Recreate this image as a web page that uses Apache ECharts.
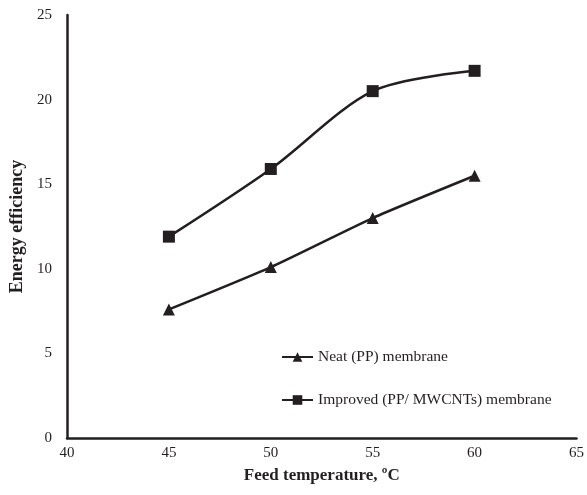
<!DOCTYPE html>
<html>
<head>
<meta charset="utf-8">
<script src="https://cdn.jsdelivr.net/npm/echarts@6/dist/echarts.min.js"></script>
<style>
  html, body { margin: 0; padding: 0; background: #fff; }
  #chart { width: 587px; height: 495px; }
</style>
</head>
<body>
<div id="chart"></div>
<script>
// Feed temperature (°C) and energy efficiency for the two membranes
const temperatures = [45, 50, 55, 60];
const neatPP = [7.6, 10.1, 13.0, 15.5];
const improvedPP = [11.9, 15.9, 20.5, 21.7];
const xTicks = [40, 45, 50, 55, 60, 65];
const yTicks = [0, 5, 10, 15, 20, 25];

const seriesNames = ['Neat (PP) membrane', 'Improved (PP/ MWCNTs) membrane'];
const font = 'Liberation Serif, Times New Roman, serif';
const ink = '#231f20';

const chart = echarts.init(document.getElementById('chart'));
chart.setOption({
  backgroundColor: '#fff',
  animation: false,
  textStyle: { fontFamily: font },
  grid: { left: 67, right: 9, top: 15, bottom: 57 },
  legend: {
    orient: 'vertical',
    left: 276,
    top: 344,
    padding: 5,
    itemGap: 27,
    itemWidth: 31,
    itemHeight: 12,
    textStyle: { fontFamily: font, fontSize: 15.5, color: ink },
    data: seriesNames
  },
  xAxis: {
    type: 'value',
    min: xTicks[0],
    max: xTicks[xTicks.length - 1],
    interval: 5,
    name: 'Feed temperature, ºC',
    nameLocation: 'middle',
    nameGap: 29,
    nameTextStyle: { fontFamily: font, fontSize: 17, fontWeight: 'bold', color: ink },
    axisLine: { lineStyle: { color: ink, width: 2.5 } },
    axisTick: { show: false },
    axisLabel: { fontFamily: font, fontSize: 15, color: ink, margin: 8 },
    splitLine: { show: false }
  },
  yAxis: {
    type: 'value',
    min: yTicks[0],
    max: yTicks[yTicks.length - 1],
    interval: 5,
    name: 'Energy efficiency',
    nameLocation: 'middle',
    nameGap: 41,
    nameTextStyle: { fontFamily: font, fontSize: 18, fontWeight: 'bold', color: ink },
    axisLine: { show: true, lineStyle: { color: ink, width: 2.5 } },
    axisTick: { show: false },
    axisLabel: { fontFamily: font, fontSize: 15, color: ink, margin: 15 },
    splitLine: { show: false }
  },
  series: [
    {
      name: seriesNames[0],
      type: 'line',
      smooth: 0.2,
      data: temperatures.map((t, i) => [t, neatPP[i]]),
      symbol: 'triangle',
      symbolSize: 12,
      lineStyle: { color: ink, width: 2.5 },
      itemStyle: { color: ink }
    },
    {
      name: seriesNames[1],
      type: 'line',
      smooth: 0.3,
      data: temperatures.map((t, i) => [t, improvedPP[i]]),
      symbol: 'rect',
      symbolSize: 12,
      lineStyle: { color: ink, width: 2.5 },
      itemStyle: { color: ink }
    }
  ]
});
</script>
</body>
</html>
